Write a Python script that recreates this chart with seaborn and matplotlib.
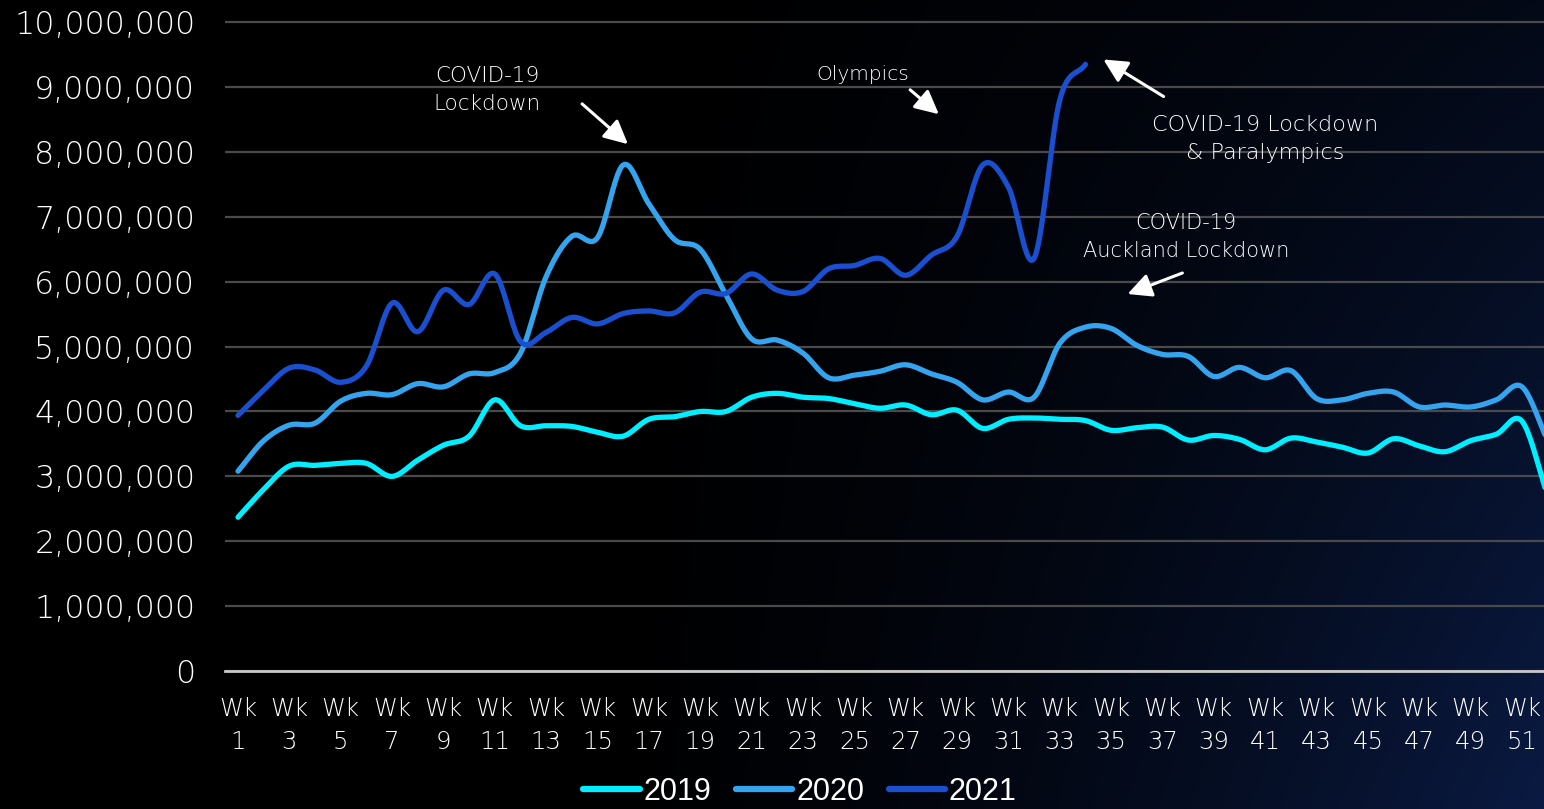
import numpy as np
import pandas as pd
import matplotlib
matplotlib.use("Agg")
import matplotlib.pyplot as plt
import seaborn as sns
from matplotlib.ticker import FuncFormatter
from matplotlib.lines import Line2D
from matplotlib.patches import FancyArrowPatch

# ---------------- data (millions) ----------------
weeks = list(range(1, 53))
years = ["2019", "2020", "2021"]
v2019 = [2.37, 2.80, 3.16, 3.17, 3.20, 3.20, 3.00, 3.25, 3.48, 3.62, 4.18, 3.78, 3.78, 3.77,
         3.68, 3.62, 3.88, 3.92, 4.00, 4.00, 4.22, 4.28, 4.22, 4.20, 4.12, 4.05, 4.10, 3.95,
         4.02, 3.74, 3.88, 3.90, 3.88, 3.86, 3.71, 3.75, 3.76, 3.56, 3.63, 3.57, 3.41, 3.59,
         3.53, 3.45, 3.36, 3.58, 3.47, 3.38, 3.55, 3.65, 3.85, 2.70]
v2020 = [3.08, 3.55, 3.79, 3.82, 4.16, 4.28, 4.26, 4.43, 4.38, 4.58, 4.60, 4.90, 6.08, 6.70,
         6.68, 7.80, 7.20, 6.65, 6.50, 5.80, 5.12, 5.10, 4.90, 4.52, 4.56, 4.62, 4.72, 4.58,
         4.45, 4.18, 4.30, 4.22, 5.05, 5.30, 5.28, 5.02, 4.88, 4.85, 4.54, 4.68, 4.52, 4.63,
         4.20, 4.18, 4.28, 4.30, 4.07, 4.10, 4.07, 4.18, 4.38, 3.55]
v2021 = [3.94, 4.33, 4.67, 4.64, 4.45, 4.70, 5.67, 5.23, 5.87, 5.65, 6.12, 5.08, 5.22, 5.45,
         5.35, 5.51, 5.55, 5.52, 5.84, 5.82, 6.12, 5.87, 5.85, 6.20, 6.25, 6.36, 6.10, 6.41,
         6.70, 7.80, 7.46, 6.36, 8.80, 9.35]
series = {"2019": v2019, "2020": v2020, "2021": v2021}
colors = {"2019": "#00EEFF", "2020": "#35A4EE", "2021": "#1A50D0"}
ytick_vals = list(range(0, 11))
xtick_weeks = list(range(1, 53, 2))

annotations = [
    ("COVID-19\nLockdown", (487, 90), (580, 102), (630, 146), 15.5),
    ("Olympics", (863, 74), (908, 88), (941, 116), 14.5),
    ("COVID-19 Lockdown\n& Paralympics", (1265, 139), (1166, 98), (1101, 58), 16),
    ("COVID-19\nAuckland Lockdown", (1186, 237), (1185, 272), (1125, 295), 15),
]

# ---------------- smoothing (display only, passes through every data point) -------------
def smooth(xs, ys, n=20):
    xs = np.asarray(xs, float); ys = np.asarray(ys, float)
    px = np.concatenate([[2 * xs[0] - xs[1]], xs, [2 * xs[-1] - xs[-2]]])
    py = np.concatenate([[2 * ys[0] - ys[1]], ys, [2 * ys[-1] - ys[-2]]])
    ox, oy = [], []
    for i in range(1, len(px) - 2):
        p0, p1, p2, p3 = np.array([px[i-1], py[i-1]]), np.array([px[i], py[i]]), \
                         np.array([px[i+1], py[i+1]]), np.array([px[i+2], py[i+2]])
        c1 = p1 + (p2 - p0) / 6.0
        c2 = p2 - (p3 - p1) / 6.0
        t = np.linspace(0, 1, n, endpoint=(i == len(px) - 3))[:, None]
        b = ((1 - t) ** 3) * p1 + 3 * ((1 - t) ** 2) * t * c1 + 3 * (1 - t) * t ** 2 * c2 + t ** 3 * p2
        ox.extend(b[:, 0]); oy.extend(b[:, 1])
    return np.array(ox), np.array(oy)

frames = []
for yr in years:
    vals = series[yr]
    sx, sy = smooth(weeks[:len(vals)], vals)
    frames.append(pd.DataFrame({"Week": sx, "Visitors": sy * 1e6, "Year": yr}))
df = pd.concat(frames, ignore_index=True)

# ---------------- figure ----------------
sns.set_theme(style="dark")
FONT = ["DejaVu Sans"]
plt.rcParams["font.family"] = FONT
plt.rcParams["font.weight"] = 200

W, H = 1544, 809
fig = plt.figure(figsize=(W / 100, H / 100), dpi=100)

# background gradient (black -> dark navy at bottom right)
bg = fig.add_axes([0, 0, 1, 1], zorder=-10)
gx, gy = np.meshgrid(np.linspace(0, 1, 400), np.linspace(0, 1, 220))
t = np.clip((gx - 0.35) / 0.65, 0, 1) ** 1.6 * (0.35 + 0.65 * gy)
navy = np.array([10, 26, 66]) / 255.0
img = t[..., None] * navy[None, None, :]
bg.imshow(img, aspect="auto", extent=[0, 1, 0, 1], origin="upper")
bg.set_axis_off()

def fx(px):
    return px / W

def fy(py):
    return 1 - py / H

left_px, right_px = 225, 1544
bottom_px, top_px = 671, 19
ax = fig.add_axes([fx(left_px), fy(bottom_px), (right_px - left_px) / W, (bottom_px - top_px) / H])
ax.set_facecolor("none")
ax.patch.set_alpha(0)

sns.lineplot(data=df, x="Week", y="Visitors", hue="Year", palette=colors, units="Year",
             estimator=None, sort=False, linewidth=3.8, ax=ax, legend=False,
             solid_capstyle="round")

wk_per_px = 1 / 25.68
ax.set_xlim(1 - (238 - left_px) * wk_per_px, 1 + (right_px - 238) * wk_per_px)
ax.set_ylim(0, 10.05e6)

ax.set_yticks([v * 1e6 for v in ytick_vals])
ax.yaxis.set_major_formatter(FuncFormatter(lambda v, p: f"{int(round(v)):,}"))
ax.set_xticks(xtick_weeks)
ax.set_xticklabels([f"Wk\n{w}" for w in xtick_weeks])

ax.grid(axis="y", color="#4a4a4a", linewidth=1.6)
ax.grid(axis="x", visible=False)
ax.set_axisbelow(True)
for s in ["top", "right", "left"]:
    ax.spines[s].set_visible(False)
ax.spines["bottom"].set_color("#c8c8c8")
ax.spines["bottom"].set_linewidth(2)
ax.tick_params(axis="y", length=0, pad=21.5, labelsize=22.8, labelcolor="white")
ax.tick_params(axis="x", length=0, pad=19, labelsize=17.5, labelcolor="white")
for lab in ax.get_xticklabels():
    lab.set_linespacing(1.45)
ax.set_xlabel("")
ax.set_ylabel("")

# annotations
for text, (tx, ty), (ax0, ay0), (ax1, ay1), fs in annotations:
    fig.text(fx(tx), fy(ty), text, ha="center", va="center", color="white",
             fontsize=fs, linespacing=1.5)
    fig.add_artist(FancyArrowPatch(
        (fx(ax0), fy(ay0)), (fx(ax1), fy(ay1)), transform=fig.transFigure,
        arrowstyle="-|>,head_length=9,head_width=4.5", mutation_scale=1.6,
        color="white", linewidth=2.2))

# legend
handles = [Line2D([0], [0], color=colors[y], linewidth=4.5, solid_capstyle="round") for y in years]
leg = fig.legend(handles, years, loc="center", bbox_to_anchor=(fx(800), fy(792)), ncol=3,
                 frameon=False, handlelength=1.85, handletextpad=0.12, borderpad=0.1,
                 columnspacing=0.8, prop={"family": ["Liberation Sans", "DejaVu Sans"], "size": 22})
for txt in leg.get_texts():
    txt.set_color("white")

fig.savefig("out.png", dpi=100, facecolor="black")
